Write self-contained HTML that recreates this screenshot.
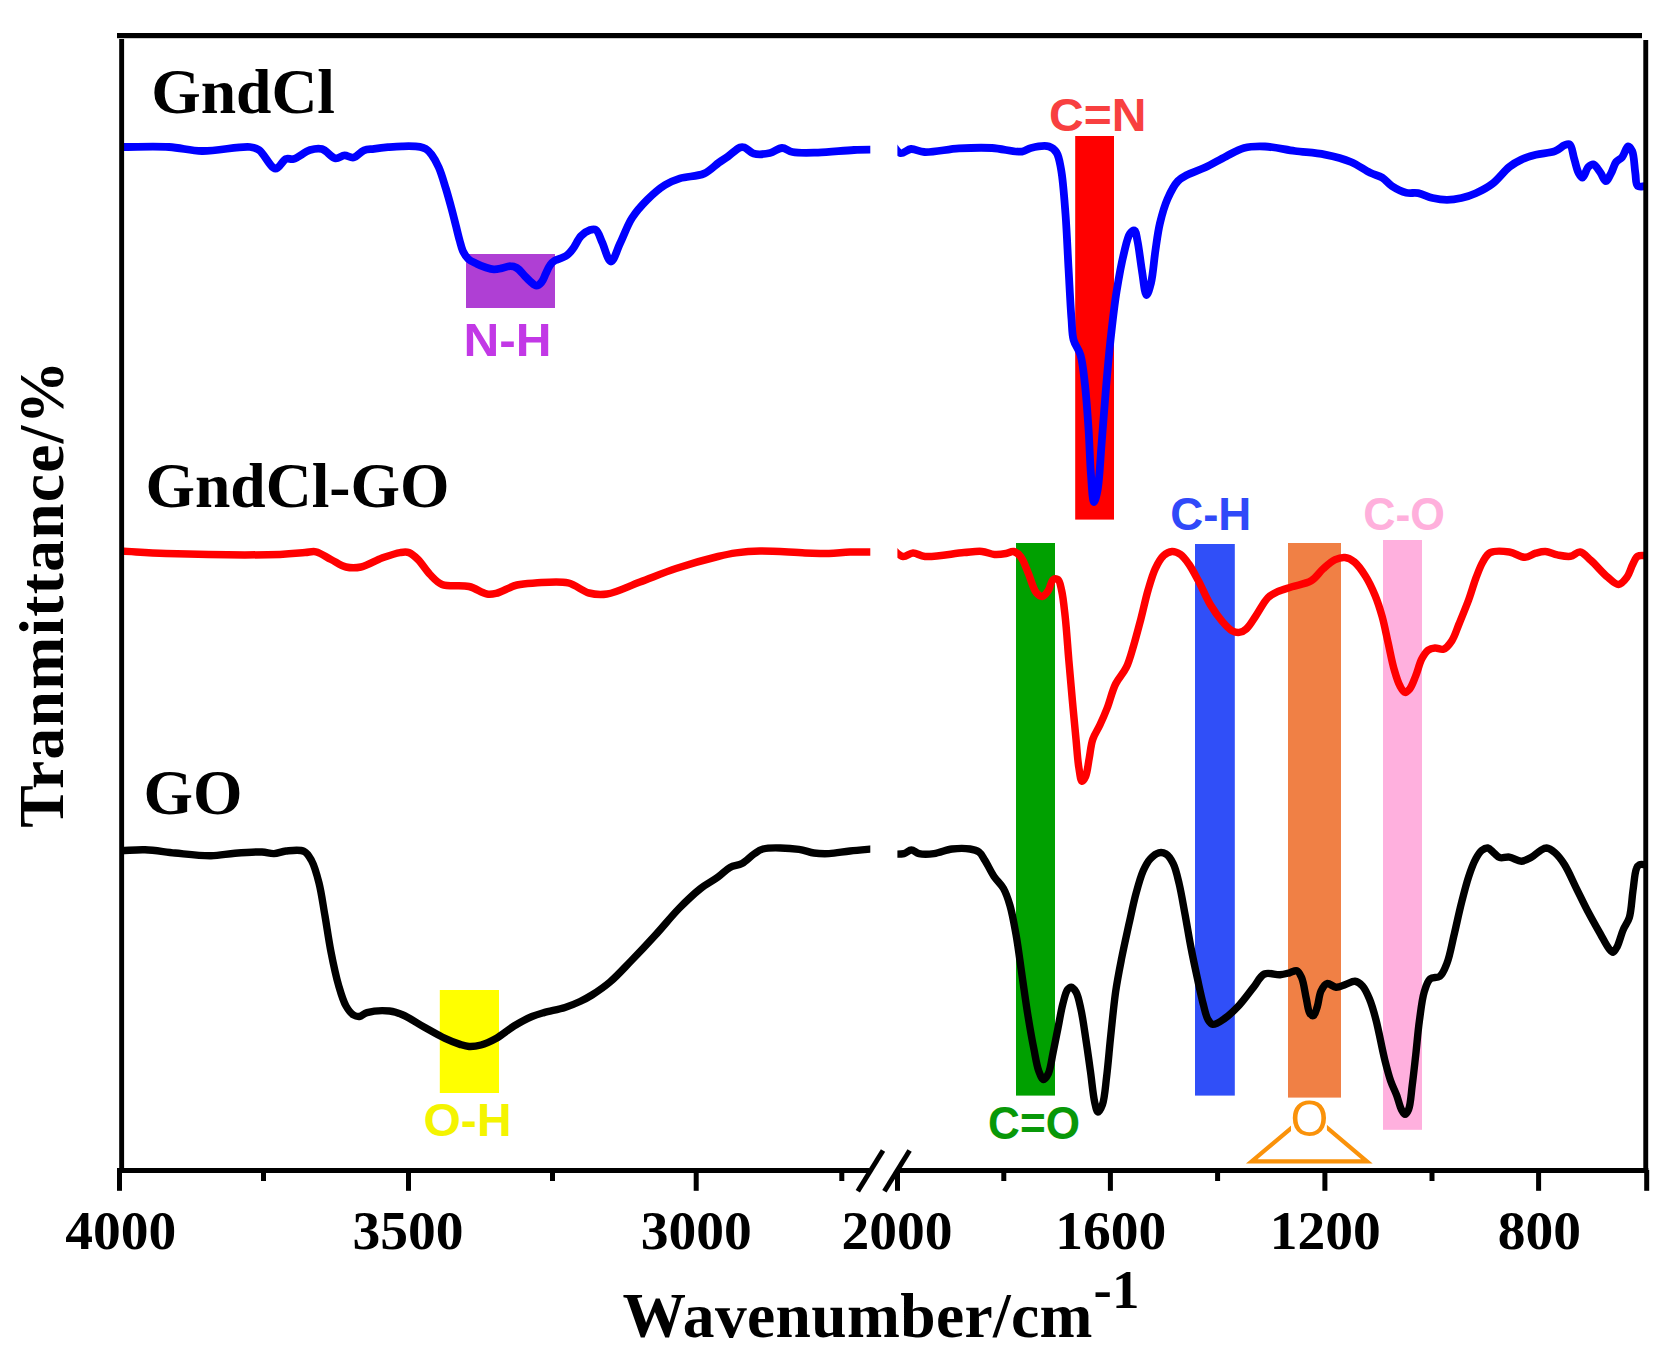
<!DOCTYPE html>
<html><head><meta charset="utf-8"><title>FTIR spectra</title>
<style>
html,body{margin:0;padding:0;background:#fff;}
body{width:1667px;height:1367px;overflow:hidden;}
svg{display:block;}
.ser{font-family:"Liberation Serif",serif;font-weight:bold;fill:#000;}
.tk{font-family:"Liberation Serif",serif;font-weight:bold;font-size:55.5px;text-anchor:middle;fill:#000;}
.lb{font-family:"Liberation Sans",sans-serif;font-weight:bold;font-size:47px;}
</style></head>
<body>
<svg width="1667" height="1367" viewBox="0 0 1667 1367">
<rect x="0" y="0" width="1667" height="1367" fill="#fff"/>
<!-- highlight bands -->
<rect x="466" y="254" width="89" height="54" fill="#af3fd4"/>
<rect x="1075.2" y="136" width="38.8" height="383.6" fill="#ff0000"/>
<rect x="1016" y="543" width="39" height="552.6" fill="#00a000"/>
<rect x="1195" y="544" width="39.8" height="551.6" fill="#304ff8"/>
<rect x="1288" y="543" width="53" height="554.6" fill="#f08045"/>
<rect x="1383" y="540" width="39" height="589.8" fill="#ffb0de"/>
<rect x="439.8" y="990" width="59.2" height="103" fill="#ffff00"/>
<!-- curves -->
<clipPath id="plt"><rect x="121" y="36" width="749.3" height="1135"/><rect x="897.4" y="36" width="748" height="1135"/></clipPath>
<path d="M121.0 850.8C129.0 850.5 136.6 849.5 145.0 849.8C154.5 850.1 164.5 852.0 175.0 853.0C186.4 854.1 200.2 856.0 211.0 855.8C219.8 855.7 226.8 853.8 235.0 853.2C243.7 852.5 254.8 851.7 262.0 852.0C266.8 852.2 270.0 853.8 274.0 853.6C278.0 853.4 281.6 851.4 286.0 851.0C291.4 850.5 299.6 849.2 304.0 851.3C307.6 853.0 309.3 856.5 311.5 860.5C314.6 866.1 316.9 874.7 319.0 883.0C321.5 892.9 323.0 904.8 325.0 916.0C327.0 927.7 328.7 940.3 331.0 952.0C333.2 963.3 335.7 975.3 338.5 985.0C340.8 992.9 342.9 1000.7 346.0 1006.0C348.2 1009.9 350.9 1013.3 353.5 1015.0C355.4 1016.2 357.4 1016.7 359.5 1016.5C361.9 1016.2 363.7 1013.5 367.0 1012.6C372.4 1011.1 383.0 1010.3 389.5 1011.0C394.6 1011.6 398.1 1012.9 403.0 1015.0C409.4 1017.7 417.0 1023.1 424.0 1027.0C431.0 1030.9 438.5 1035.4 445.0 1038.4C450.3 1040.9 455.6 1043.0 460.0 1044.4C463.3 1045.4 465.8 1046.3 469.0 1046.5C472.7 1046.7 476.9 1046.1 481.0 1045.0C485.8 1043.7 490.9 1041.2 496.0 1038.4C501.9 1035.1 507.9 1029.7 514.0 1026.0C519.9 1022.4 526.5 1018.8 532.0 1016.5C536.3 1014.7 539.4 1013.9 544.0 1012.6C550.0 1010.9 558.7 1009.5 565.0 1007.5C570.5 1005.7 575.3 1003.7 580.0 1001.5C584.3 999.5 587.7 997.7 592.0 995.0C597.5 991.5 604.0 987.1 610.0 982.0C617.0 976.1 623.8 968.4 631.0 961.0C638.8 953.0 647.1 944.2 655.0 935.5C663.1 926.7 671.1 916.6 679.0 908.5C686.1 901.3 693.1 894.5 700.0 889.0C706.0 884.2 712.7 880.9 718.0 877.0C722.5 873.7 725.8 869.7 730.0 867.4C733.8 865.3 738.2 865.5 742.0 863.5C746.2 861.2 750.2 856.5 754.0 854.0C757.1 851.9 758.8 850.1 763.0 849.0C770.8 847.0 789.6 848.2 799.0 849.4C805.1 850.2 809.0 852.3 814.0 853.0C819.0 853.7 823.6 853.8 829.0 853.6C835.4 853.3 842.6 851.8 850.0 851.0C858.2 850.1 867.3 849.4 876.0 848.6" stroke="#000" stroke-width="7.4" fill="none" stroke-linejoin="round" stroke-linecap="butt" clip-path="url(#plt)"/>
<path d="M892.0 854.2C896.0 854.0 900.6 854.5 904.0 853.6C906.8 852.9 908.9 850.0 911.4 850.0C913.9 850.0 915.9 852.9 919.0 853.6C923.1 854.5 928.8 854.3 934.0 853.6C939.8 852.9 946.0 849.8 952.0 849.0C958.0 848.3 965.1 848.2 970.0 849.0C973.6 849.6 976.5 850.2 979.0 852.0C981.6 853.9 982.9 857.2 985.0 860.5C987.8 864.9 990.8 871.7 994.0 876.5C997.0 880.9 1000.9 883.9 1003.5 888.5C1006.3 893.5 1008.1 899.1 1010.0 905.6C1012.4 913.9 1014.1 923.9 1016.0 934.4C1018.2 946.8 1020.0 961.6 1022.0 975.2C1024.0 988.8 1025.9 1003.1 1028.0 1016.0C1029.9 1027.8 1032.0 1039.7 1034.0 1049.6C1035.6 1057.6 1036.7 1065.7 1038.8 1071.1C1040.2 1074.7 1041.9 1079.4 1043.6 1079.5C1045.1 1079.6 1047.0 1076.3 1048.4 1073.5C1050.7 1068.7 1051.6 1059.4 1053.2 1052.0C1054.8 1044.2 1056.4 1036.0 1058.0 1028.0C1059.6 1020.0 1061.0 1010.9 1062.8 1004.0C1064.3 998.5 1065.6 992.2 1067.6 989.6C1068.7 988.2 1070.0 987.1 1071.2 987.2C1072.7 987.4 1074.6 989.7 1076.0 992.0C1078.2 995.7 1079.4 1002.4 1080.8 1008.8C1082.7 1017.1 1084.1 1027.6 1085.6 1037.6C1087.3 1048.3 1088.9 1060.1 1090.4 1071.1C1091.9 1081.7 1093.0 1094.9 1094.7 1102.3C1095.7 1106.5 1096.6 1111.9 1098.0 1112.0C1099.2 1112.1 1101.2 1108.1 1102.4 1104.7C1104.7 1098.4 1105.4 1086.4 1106.7 1076.0C1108.2 1063.6 1109.3 1049.0 1110.8 1035.2C1112.3 1021.0 1113.7 1005.5 1115.6 992.0C1117.3 980.1 1119.4 969.6 1121.6 958.4C1123.8 947.2 1126.4 935.8 1128.8 924.8C1131.2 914.2 1133.4 903.1 1136.0 893.6C1138.2 885.4 1140.4 877.1 1143.2 870.8C1145.4 866.0 1147.5 861.9 1150.4 858.8C1152.9 856.1 1156.0 853.5 1158.8 852.8C1161.2 852.2 1163.8 852.7 1166.0 854.0C1168.8 855.7 1171.2 859.6 1173.2 863.6C1175.9 868.9 1177.4 876.4 1179.2 884.0C1181.4 893.3 1183.2 904.6 1185.2 915.2C1187.2 926.2 1189.1 938.0 1191.2 948.8C1193.1 958.8 1195.2 968.2 1197.2 977.6C1199.2 986.6 1201.2 996.4 1203.2 1004.0C1204.8 1009.9 1205.9 1016.1 1208.0 1019.6C1209.4 1021.9 1210.7 1024.1 1212.8 1024.4C1215.8 1024.9 1220.8 1021.1 1224.8 1018.4C1229.6 1015.1 1234.6 1010.1 1239.2 1005.2C1244.2 999.8 1249.1 992.7 1253.6 987.2C1257.4 982.4 1259.9 976.0 1264.4 974.0C1268.7 972.1 1275.4 975.0 1280.0 974.7C1283.6 974.4 1286.6 973.5 1289.6 972.8C1292.2 972.2 1294.8 970.1 1296.8 970.8C1298.9 971.5 1300.2 974.5 1301.6 977.6C1303.8 982.6 1304.9 992.7 1306.4 999.2C1307.6 1004.5 1308.1 1011.2 1310.0 1013.6C1311.0 1014.9 1312.6 1015.9 1313.6 1015.5C1315.2 1014.9 1316.1 1010.3 1317.2 1007.0C1318.7 1002.6 1319.0 995.1 1321.0 991.0C1322.6 987.8 1324.5 984.2 1327.0 983.6C1329.5 982.9 1332.9 987.0 1336.0 987.2C1339.1 987.4 1342.3 985.5 1345.5 984.5C1348.7 983.5 1352.1 980.9 1355.0 981.2C1357.7 981.5 1360.3 983.6 1362.5 986.0C1365.3 989.1 1367.4 994.0 1369.5 999.0C1372.0 1005.1 1373.9 1011.9 1376.0 1020.0C1378.9 1031.0 1381.8 1048.0 1384.6 1059.1C1386.7 1067.4 1388.4 1074.3 1390.6 1080.7C1392.4 1086.0 1394.8 1090.3 1396.6 1095.1C1398.4 1099.9 1399.6 1106.1 1401.4 1109.5C1402.5 1111.6 1403.8 1114.3 1405.0 1114.3C1406.2 1114.3 1407.6 1111.9 1408.6 1109.5C1410.6 1104.7 1411.1 1094.0 1412.2 1085.5C1413.5 1075.8 1414.6 1065.0 1415.8 1054.4C1417.0 1043.4 1417.9 1031.5 1419.4 1020.8C1420.8 1010.8 1421.9 999.6 1424.2 992.0C1425.8 986.6 1427.2 981.3 1430.2 978.8C1432.7 976.7 1437.2 978.4 1439.8 976.4C1443.1 973.9 1444.9 968.6 1447.0 963.2C1450.0 955.6 1451.8 944.2 1454.2 934.4C1456.6 924.2 1458.9 913.1 1461.4 903.2C1463.7 894.0 1466.0 884.7 1468.6 876.8C1470.8 870.2 1473.2 863.5 1475.8 858.8C1477.7 855.3 1479.5 852.2 1481.8 850.4C1483.6 849.0 1485.9 847.7 1487.8 848.0C1489.9 848.3 1491.8 851.2 1493.8 852.8C1495.8 854.4 1497.4 856.8 1499.8 857.6C1502.5 858.5 1506.1 856.6 1509.4 857.1C1513.2 857.6 1517.6 861.3 1521.4 861.2C1524.8 861.1 1527.9 859.3 1531.0 857.6C1534.3 855.8 1537.7 852.0 1540.6 850.4C1542.7 849.2 1544.5 847.9 1546.6 848.0C1549.2 848.2 1552.3 850.5 1555.0 852.8C1558.4 855.7 1561.5 859.9 1564.6 864.8C1568.7 871.3 1572.6 880.8 1576.6 888.8C1580.6 896.8 1584.5 905.1 1588.6 912.8C1592.5 920.2 1596.9 927.9 1600.6 934.4C1603.6 939.7 1606.5 945.7 1609.0 948.8C1610.4 950.6 1611.7 952.5 1613.0 952.4C1614.5 952.2 1615.9 949.0 1617.3 946.4C1619.4 942.3 1621.1 934.7 1623.3 929.6C1625.2 925.2 1627.8 922.5 1629.3 917.6C1631.4 910.7 1631.7 899.7 1632.9 891.2C1634.1 883.3 1634.6 872.6 1636.5 868.4C1637.3 866.5 1638.0 865.5 1639.4 864.8C1641.0 864.0 1643.8 864.8 1646.0 864.8" stroke="#000" stroke-width="7.4" fill="none" stroke-linejoin="round" stroke-linecap="butt" clip-path="url(#plt)"/>
<path d="M121.0 551.0C136.0 551.8 147.6 552.9 166.0 553.5C195.3 554.4 255.8 555.2 280.0 554.4C291.4 554.0 298.4 553.1 305.0 552.6C309.4 552.3 312.2 551.0 316.0 551.8C320.7 552.8 326.0 557.0 331.0 559.5C336.0 562.0 340.9 565.8 346.0 567.0C350.9 568.1 355.7 568.1 361.0 567.0C367.5 565.7 375.2 560.5 382.0 558.0C388.2 555.8 395.0 553.3 400.0 552.6C403.5 552.1 406.2 551.6 409.0 552.6C412.2 553.7 415.0 556.5 418.0 559.5C421.9 563.4 425.8 570.2 430.0 574.5C433.8 578.4 436.8 582.3 442.0 584.4C448.9 587.2 461.0 584.6 469.0 586.5C475.8 588.1 481.9 593.2 487.0 594.0C490.4 594.6 492.5 594.2 496.0 593.4C501.6 592.1 510.2 586.7 517.0 585.0C523.1 583.5 528.1 583.4 535.0 583.0C544.3 582.5 558.5 580.7 568.0 582.9C576.0 584.7 582.1 591.2 589.0 593.0C595.1 594.6 600.2 595.0 607.0 594.0C616.5 592.6 628.8 586.1 640.0 582.0C651.7 577.7 663.5 572.6 676.0 568.5C689.4 564.1 706.9 559.2 718.0 556.5C725.2 554.8 729.5 553.8 736.0 552.9C743.4 551.9 750.7 551.2 760.0 551.0C772.7 550.8 792.3 552.5 805.0 552.9C814.2 553.2 821.3 553.7 829.0 553.5C836.2 553.3 842.6 552.3 850.0 552.0C858.2 551.7 867.3 552.0 876.0 552.0" stroke="#ff0000" stroke-width="7.5" fill="none" stroke-linejoin="round" stroke-linecap="butt" clip-path="url(#plt)"/>
<path d="M892.0 548.5C895.7 551.2 899.3 556.0 903.0 556.5C906.3 557.0 909.5 553.0 913.0 552.9C916.8 552.8 919.8 556.0 925.0 556.5C934.2 557.4 953.5 553.5 964.0 552.6C971.1 552.0 976.6 550.9 982.0 551.4C986.6 551.8 990.3 554.1 994.4 554.4C998.3 554.7 1002.6 554.1 1006.0 553.5C1008.8 553.0 1011.2 551.0 1013.6 551.5C1016.2 552.0 1018.7 554.2 1020.8 556.8C1023.7 560.4 1025.6 566.8 1028.0 572.4C1030.8 578.7 1033.1 589.0 1036.4 592.8C1038.2 594.9 1040.5 596.6 1042.4 596.4C1044.5 596.1 1046.7 592.9 1048.4 590.4C1050.4 587.5 1051.0 581.0 1053.2 579.6C1054.6 578.7 1056.7 578.7 1058.0 579.6C1060.0 581.0 1060.6 585.9 1061.6 590.4C1063.2 597.2 1064.1 606.9 1065.2 616.8C1066.6 629.4 1067.6 645.8 1068.8 660.0C1070.0 673.8 1071.2 687.4 1072.4 700.8C1073.6 713.8 1074.8 727.3 1076.0 739.2C1077.0 749.5 1077.6 760.3 1078.9 768.0C1079.8 773.3 1080.5 780.9 1082.0 781.2C1083.0 781.4 1084.6 778.7 1085.6 776.4C1087.4 772.4 1088.0 764.5 1089.2 758.4C1090.4 752.1 1090.8 745.0 1092.8 739.2C1094.6 733.9 1097.7 729.8 1100.0 724.8C1102.5 719.5 1104.8 714.1 1107.2 708.0C1110.0 700.8 1112.1 691.1 1115.6 684.0C1118.7 677.7 1123.5 673.4 1126.4 667.2C1129.5 660.6 1131.3 653.2 1133.6 645.6C1136.1 637.3 1138.4 628.2 1140.8 619.2C1143.3 609.8 1145.4 599.3 1148.0 590.4C1150.3 582.6 1152.3 575.0 1155.2 568.8C1157.6 563.7 1160.3 558.5 1163.6 555.6C1166.1 553.3 1169.2 551.7 1172.0 551.5C1174.8 551.3 1177.8 552.7 1180.4 554.4C1183.5 556.5 1186.1 560.2 1188.8 564.0C1192.1 568.7 1195.1 574.7 1198.4 580.8C1202.3 588.0 1206.1 597.7 1210.4 604.8C1214.2 611.1 1218.4 617.0 1222.4 621.6C1225.6 625.3 1228.8 629.0 1232.0 630.7C1234.4 632.0 1236.8 632.7 1239.2 632.4C1241.7 632.1 1244.1 630.8 1246.4 628.8C1249.7 626.0 1252.7 620.4 1256.0 615.6C1259.8 610.1 1263.8 601.7 1268.0 597.6C1271.1 594.6 1274.0 593.3 1277.6 591.6C1281.8 589.6 1286.8 588.5 1292.0 586.8C1297.9 584.9 1305.9 584.0 1311.2 580.8C1316.1 577.8 1319.1 572.4 1323.2 568.8C1327.1 565.4 1331.2 561.6 1335.2 559.7C1338.4 558.2 1341.7 557.2 1344.8 557.5C1348.1 557.8 1351.4 559.6 1354.4 562.0C1358.3 565.1 1362.1 570.8 1365.4 576.0C1369.0 581.7 1372.2 588.5 1375.0 595.2C1377.9 602.1 1380.1 609.2 1382.2 616.8C1384.5 625.1 1386.2 634.4 1388.2 643.2C1390.2 652.0 1391.9 661.8 1394.2 669.6C1396.0 675.9 1397.9 682.3 1400.2 686.4C1401.7 689.1 1403.3 692.2 1405.0 692.4C1406.5 692.6 1408.3 690.6 1409.8 688.8C1412.1 685.9 1413.9 680.3 1415.8 675.6C1417.9 670.4 1419.4 663.3 1421.8 658.8C1423.6 655.4 1425.4 652.2 1427.8 650.4C1429.9 648.9 1432.5 648.2 1435.0 648.0C1437.7 647.8 1440.8 650.1 1443.4 649.2C1446.5 648.2 1449.4 644.4 1451.8 640.8C1454.8 636.4 1456.5 630.1 1459.0 624.0C1462.0 616.7 1465.7 607.8 1468.6 600.0C1471.3 592.7 1473.3 585.1 1475.8 578.4C1478.1 572.4 1480.2 566.2 1483.0 561.6C1485.2 558.0 1486.7 554.5 1490.2 552.7C1494.7 550.4 1503.4 551.1 1509.4 552.0C1514.9 552.8 1520.3 557.4 1525.0 557.3C1528.9 557.2 1532.3 554.2 1535.8 553.2C1539.1 552.3 1542.0 551.3 1545.4 551.5C1549.2 551.7 1553.3 554.1 1557.4 554.9C1561.6 555.7 1566.5 556.9 1570.5 556.3C1574.0 555.7 1576.9 551.6 1580.1 552.0C1583.7 552.4 1587.0 557.0 1590.9 560.4C1596.0 564.9 1602.5 573.0 1607.7 577.2C1611.5 580.3 1615.2 584.6 1618.5 584.4C1621.6 584.2 1624.6 580.3 1626.9 577.2C1629.5 573.7 1630.9 567.8 1632.9 564.0C1634.5 561.0 1635.4 557.7 1637.7 556.3C1639.9 555.0 1643.2 555.8 1646.0 555.6" stroke="#ff0000" stroke-width="7.5" fill="none" stroke-linejoin="round" stroke-linecap="butt" clip-path="url(#plt)"/>
<path d="M121.0 147.0C137.0 147.0 154.5 146.1 169.0 147.0C181.1 147.7 190.0 150.8 202.0 151.0C216.5 151.3 240.4 145.8 250.0 147.0C254.3 147.5 255.8 147.9 259.0 150.0C264.1 153.4 270.5 168.3 275.5 168.6C279.3 168.8 282.5 160.3 286.0 159.0C288.5 158.0 290.6 159.7 293.5 159.0C298.1 157.8 304.8 151.6 310.0 150.0C314.2 148.7 318.1 147.9 322.0 149.0C326.6 150.2 331.3 157.8 335.5 158.4C338.7 158.9 341.5 155.5 344.5 155.4C347.5 155.3 350.5 158.1 353.5 157.5C357.0 156.8 360.4 151.7 364.0 150.3C367.2 149.0 370.4 149.3 374.0 148.8C378.3 148.2 383.3 147.6 388.0 147.2C392.7 146.8 397.0 146.4 402.0 146.3C407.6 146.2 415.7 146.0 420.0 146.8C422.6 147.3 424.2 147.8 426.0 149.0C428.1 150.3 429.8 152.2 431.6 154.6C434.1 157.9 436.6 162.5 438.8 167.5C441.5 173.6 443.8 182.0 446.0 189.0C448.0 195.6 449.8 202.2 451.5 208.5C453.1 214.5 454.6 220.5 456.0 226.0C457.2 230.9 458.3 235.7 459.5 240.0C460.6 243.8 461.3 247.6 462.8 250.8C464.2 253.7 465.7 256.6 468.0 258.7C470.3 260.9 473.7 262.3 476.6 263.7C479.4 265.1 482.3 266.4 485.2 267.3C488.1 268.2 491.1 269.2 493.9 269.3C496.4 269.4 498.6 268.9 501.1 268.4C504.0 267.9 507.6 266.1 510.4 266.2C512.8 266.2 514.8 266.8 516.9 268.0C519.4 269.5 521.8 272.9 524.1 275.2C526.3 277.4 528.4 279.9 530.6 281.7C532.5 283.3 534.5 285.7 536.4 285.7C538.1 285.7 540.0 284.0 541.4 282.4C543.2 280.4 544.3 276.7 545.7 273.8C547.1 270.9 548.3 267.5 550.0 265.2C551.4 263.2 553.0 261.7 554.9 260.5C556.9 259.3 559.5 258.9 561.6 258.0C563.6 257.1 565.5 256.4 567.3 255.0C569.4 253.4 571.0 251.2 573.0 248.6C575.6 245.2 577.9 239.2 581.0 236.0C583.7 233.3 587.2 230.9 590.0 230.0C592.1 229.4 594.3 228.9 596.0 230.0C598.6 231.6 599.8 237.5 602.0 242.0C604.7 247.7 607.9 261.5 611.0 261.5C614.0 261.5 616.8 250.0 620.0 243.5C623.8 235.8 627.2 225.5 632.0 218.0C636.4 211.2 641.5 205.5 647.0 200.0C652.5 194.5 659.0 188.7 665.0 185.0C670.0 181.9 674.3 180.2 680.0 178.4C687.0 176.2 697.2 176.6 704.0 173.6C709.9 171.0 714.6 165.6 719.0 162.5C722.3 160.1 724.8 158.8 728.0 156.5C731.7 153.8 736.8 148.6 740.0 147.5C741.7 146.9 742.8 147.0 744.5 147.5C747.1 148.3 749.9 152.5 753.5 153.5C758.0 154.8 765.0 154.1 770.0 153.0C774.4 152.0 778.1 148.1 782.0 148.0C785.6 147.9 788.1 151.1 792.5 152.0C799.1 153.3 808.8 152.8 818.0 152.6C829.0 152.3 843.5 150.5 854.0 150.0C862.2 149.6 868.7 149.7 876.0 149.6" stroke="#0000ff" stroke-width="7.8" fill="none" stroke-linejoin="round" stroke-linecap="butt" clip-path="url(#plt)"/>
<path d="M892.0 144.5C894.9 147.4 897.3 152.5 900.6 153.2C903.7 153.8 907.3 149.3 911.0 149.0C915.1 148.7 918.9 151.7 924.4 152.0C933.2 152.5 947.6 149.1 959.0 148.4C970.1 147.8 981.3 147.4 992.0 148.0C1002.3 148.6 1015.0 152.5 1022.0 151.6C1026.0 151.1 1027.4 148.8 1031.0 148.0C1035.9 146.8 1044.5 145.1 1049.0 146.5C1052.3 147.5 1054.6 149.6 1056.5 152.5C1059.0 156.4 1059.7 162.1 1061.0 169.0C1063.1 180.2 1064.3 198.3 1065.5 214.0C1066.8 231.2 1067.5 250.3 1068.5 268.0C1069.5 285.2 1070.4 305.7 1071.5 319.0C1072.2 327.5 1071.9 333.7 1073.6 340.0C1075.1 345.6 1078.7 349.0 1080.5 355.0C1082.9 363.1 1083.7 374.0 1085.0 385.0C1086.5 398.5 1087.6 415.0 1088.6 430.0C1089.6 445.0 1089.9 461.9 1091.0 475.0C1091.8 485.2 1092.5 501.9 1094.0 502.0C1095.0 502.1 1096.6 495.3 1097.6 490.0C1099.5 479.9 1100.2 460.9 1101.5 445.0C1103.0 427.1 1104.4 406.2 1106.0 388.0C1107.4 371.3 1108.8 356.0 1110.5 340.0C1112.3 324.0 1114.1 307.1 1116.5 292.0C1118.7 278.3 1121.3 263.7 1124.0 253.0C1125.9 245.3 1127.4 237.0 1130.0 233.5C1131.3 231.7 1133.3 230.1 1134.5 230.5C1136.2 231.1 1136.5 236.6 1137.5 241.0C1139.1 248.4 1140.4 261.6 1142.0 271.0C1143.4 279.5 1144.7 294.8 1146.5 295.0C1147.8 295.1 1149.7 288.1 1151.0 283.0C1153.1 274.8 1153.9 260.4 1155.5 250.0C1156.9 240.5 1157.9 231.7 1160.0 223.0C1162.0 214.7 1164.3 206.3 1167.5 199.0C1170.4 192.4 1174.1 185.1 1178.0 181.0C1180.8 178.0 1183.4 176.9 1187.0 175.0C1191.9 172.4 1198.8 170.4 1205.0 167.5C1211.8 164.3 1219.2 159.8 1226.0 156.4C1232.2 153.3 1237.6 149.7 1244.0 148.0C1250.6 146.3 1257.4 146.2 1265.0 146.5C1274.1 146.9 1285.0 149.6 1295.0 151.0C1305.0 152.3 1315.4 152.7 1325.0 154.6C1334.1 156.4 1343.2 158.7 1351.0 162.0C1358.1 164.9 1364.5 170.1 1370.2 172.8C1374.6 174.9 1378.6 175.4 1382.2 177.6C1385.8 179.8 1388.1 183.6 1391.8 186.0C1396.0 188.7 1401.5 191.6 1406.2 192.7C1410.3 193.7 1414.1 192.4 1418.2 193.2C1422.8 194.1 1427.7 196.9 1432.6 198.0C1437.3 199.1 1442.2 199.9 1447.0 199.9C1451.8 199.9 1456.7 199.1 1461.4 198.0C1466.3 196.9 1470.9 195.4 1475.8 193.2C1481.3 190.7 1487.3 187.7 1492.6 183.6C1498.5 179.1 1504.0 171.0 1509.4 166.8C1513.5 163.6 1517.1 161.6 1521.4 159.6C1525.9 157.5 1530.6 156.1 1535.8 154.8C1541.7 153.3 1549.8 153.2 1555.0 151.2C1558.9 149.7 1561.8 146.2 1564.6 145.2C1566.5 144.5 1568.4 143.6 1569.8 144.5C1572.1 146.0 1572.7 153.7 1574.1 158.4C1575.6 163.2 1576.7 169.4 1578.5 172.8C1579.7 175.0 1581.1 177.7 1582.5 177.6C1584.4 177.4 1586.2 169.0 1588.5 166.8C1590.0 165.4 1591.7 164.1 1593.3 164.4C1595.6 164.9 1598.4 169.9 1600.5 172.8C1602.5 175.5 1604.0 181.2 1605.8 181.2C1607.6 181.2 1609.6 175.8 1611.3 172.8C1613.1 169.5 1614.0 164.7 1616.1 162.0C1617.8 159.8 1620.3 159.3 1622.1 157.2C1624.4 154.5 1626.2 146.6 1628.1 146.4C1629.5 146.3 1631.1 148.8 1632.2 151.2C1634.2 155.7 1634.3 166.5 1635.3 172.8C1636.1 177.7 1635.4 184.1 1637.7 186.0C1639.5 187.5 1643.2 186.0 1646.0 186.0" stroke="#0000ff" stroke-width="7.8" fill="none" stroke-linejoin="round" stroke-linecap="butt" clip-path="url(#plt)"/>

<!-- frame -->
<rect x="117" y="33" width="1525" height="5.2" fill="#000"/>
<rect x="119.2" y="39" width="4.9" height="1134" fill="#000"/>
<rect x="1643.3" y="40" width="4.9" height="1133" fill="#000"/>
<rect x="117" y="1168" width="752" height="5" fill="#000"/>
<rect x="896" y="1168" width="752.3" height="5" fill="#000"/>
<!-- axis break -->
<line x1="857.8" y1="1191.3" x2="883" y2="1150.5" stroke="#000" stroke-width="5"/>
<line x1="884.4" y1="1191.3" x2="909.6" y2="1150.5" stroke="#000" stroke-width="5"/>
<!-- ticks -->
<rect x="117.0" y="1170" width="5" height="20.8" fill="#000"/>
<rect x="406.0" y="1170" width="5" height="20.8" fill="#000"/>
<rect x="693.7" y="1170" width="5" height="20.8" fill="#000"/>
<rect x="895.0" y="1170" width="5" height="20.8" fill="#000"/>
<rect x="1107.9" y="1170" width="5" height="20.8" fill="#000"/>
<rect x="1322.4" y="1170" width="5" height="20.8" fill="#000"/>
<rect x="1536.1" y="1170" width="5" height="20.8" fill="#000"/>
<rect x="1644.2" y="1170" width="5" height="20.8" fill="#000"/>
<rect x="261.0" y="1170" width="5" height="11" fill="#000"/>
<rect x="550.0" y="1170" width="5" height="11" fill="#000"/>
<rect x="839.3" y="1170" width="5" height="11" fill="#000"/>
<rect x="1001.3" y="1170" width="5" height="11" fill="#000"/>
<rect x="1215.1" y="1170" width="5" height="11" fill="#000"/>
<rect x="1429.5" y="1170" width="5" height="11" fill="#000"/>
<text x="120.8" y="1248.5" class="tk">4000</text>
<text x="407.9" y="1248.5" class="tk">3500</text>
<text x="696.3" y="1248.5" class="tk">3000</text>
<text x="896.9" y="1248.5" class="tk">2000</text>
<text x="1110.8" y="1248.5" class="tk">1600</text>
<text x="1325.3" y="1248.5" class="tk">1200</text>
<text x="1539.3" y="1248.5" class="tk">800</text>

<!-- series names -->
<text x="151.2" y="112.6" class="ser" font-size="63.6">GndCl</text>
<text x="145.5" y="507.2" class="ser" font-size="63.6">GndCl-GO</text>
<text x="143.6" y="814" class="ser" font-size="63.6">GO</text>
<!-- band labels -->
<text transform="translate(463.43,356.0) scale(1.0547,1)" class="lb" fill="#c238e6">N-H</text>
<text transform="translate(1049.08,131.2) scale(1.0217,1)" class="lb" fill="#f84040">C=N</text>
<text transform="translate(1170.17,530.2) scale(0.9721,1)" class="lb" fill="#3049f9">C-H</text>
<text transform="translate(1363.21,530.3) scale(0.9495,1)" class="lb" fill="#ffb0dc">C-O</text>
<text transform="translate(423.48,1136.1) scale(1.0230,1)" class="lb" fill="#f4f400">O-H</text>
<text transform="translate(988.04,1139.4) scale(0.9383,1)" class="lb" fill="#089808">C=O</text>
<!-- epoxide -->
<clipPath id="epc"><rect x="1238" y="1118" width="53" height="50"/><rect x="1326.9" y="1118" width="55" height="50"/><rect x="1290" y="1150" width="38" height="18"/></clipPath>
<path d="M1296.9 1123.3L1251.7 1161.35H1366.9L1321 1122.7" stroke="#fa920a" fill="none" stroke-width="4.2" stroke-linejoin="miter" stroke-miterlimit="10" clip-path="url(#epc)"/>
<text transform="translate(1290.47,1135.6) scale(0.979,1)" font-family="'Liberation Sans',sans-serif" font-size="49.7" fill="#fa920a">O</text>
<!-- axis titles -->
<text x="622.5" y="1336.6" class="ser" font-size="63.5" textLength="470" lengthAdjust="spacing">Wavenumber/cm</text>
<text x="1093.6" y="1307.8" class="ser" font-size="55">-1</text>
<text transform="translate(62.5,827.8) rotate(-90)" class="ser" font-size="63.5" textLength="467" lengthAdjust="spacing">Tranmittance/%</text>
</svg>
</body></html>
